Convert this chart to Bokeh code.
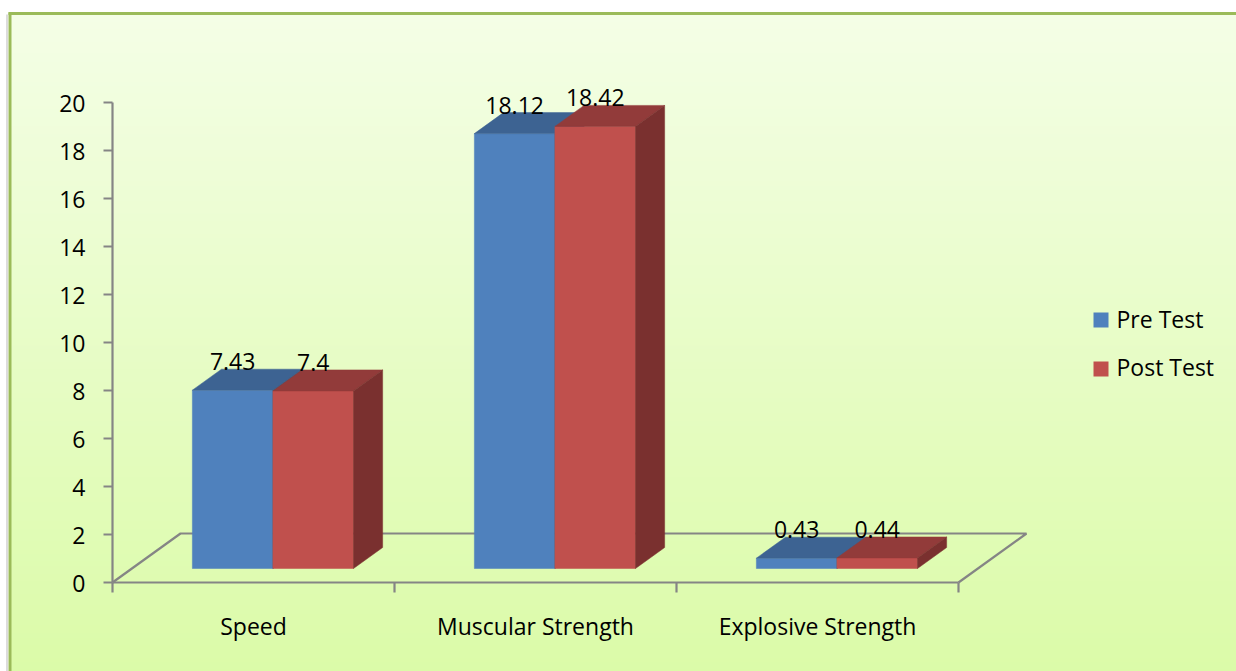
import numpy as np
from bokeh.plotting import figure
from bokeh.models import Range1d
from bokeh.core.properties import value
from bokeh.embed import file_html
from bokeh.resources import INLINE

# ---------------- data ----------------
categories = ["Speed", "Muscular Strength", "Explosive Strength"]
series = ["Pre Test", "Post Test"]
pre_test = [7.43, 18.12, 0.43]
post_test = [7.4, 18.42, 0.44]
value_labels_pre = ["7.43", "18.12", "0.43"]
value_labels_post = ["7.4", "18.42", "0.44"]
y_ticks = [0, 2, 4, 6, 8, 10, 12, 14, 16, 18, 20]
y_tick_labels = ["0", "2", "4", "6", "8", "10", "12", "14", "16", "18", "20"]

# ---------------- style ----------------
FRONT = ["#4F81BD", "#C0504D"]
TOP = ["#3D6392", "#923B3A"]
SIDE = ["#33557F", "#7A302F"]
AXIS = "#858585"
FONT = value("Open Sans")
FS = "23px"
TXT_SHIFT = 9.0   # pixel correction of the text baseline

W, H = 1236, 671
PX_CAT, PX_UNIT = 282.0, 24.0      # pixels per category / per value unit
X0, Y0 = 112.0, 582.0              # pixel position of the plot origin


def px2x(px):
    return (px - X0) / PX_CAT


def px2y(py):
    return (Y0 - py) / PX_UNIT


def dx(px):
    return px / PX_CAT


def dy(px):
    return px / PX_UNIT


p = figure(width=W, height=H,
           x_range=Range1d(px2x(0), px2x(W)), y_range=Range1d(px2y(H), px2y(0)),
           output_backend="svg", toolbar_location=None, min_border=0,
           x_axis_location=None, y_axis_location=None,
           outline_line_color=None, background_fill_color="white",
           border_fill_color="white")
p.grid.visible = False

# ---------------- chart area background (vertical gradient) ----------------
top_c = np.array([0xF4, 0xFE, 0xE6], float)
bot_c = np.array([0xDB, 0xFB, 0xA8], float)
edges = np.arange(13, H + 4, 4)
b_l, b_r, b_t, b_b, b_col = [], [], [], [], []
for i in range(len(edges) - 1):
    t = (edges[i] - 13) / (H - 13)
    c = top_c * (1 - t) + bot_c * t
    b_col.append("#%02x%02x%02x" % tuple(int(round(v)) for v in c))
    b_l.append(px2x(9))
    b_r.append(px2x(W + 2))
    b_t.append(px2y(edges[i]))
    b_b.append(px2y(edges[i + 1] + 0.6))
p.quad(left=b_l, right=b_r, top=b_t, bottom=b_b, fill_color=b_col, line_color=None)

# border and faint shadow
p.line([px2x(6.5), px2x(6.5)], [px2y(14), px2y(H)], line_color="#DCDCDC", line_width=2)
p.line([px2x(9.5), px2x(9.5)], [px2y(12), px2y(H)], line_color="#9BBB59", line_width=3)
p.line([px2x(8), px2x(W + 2)], [px2y(13), px2y(13)], line_color="#9BBB59", line_width=3)

# ---------------- 3-D geometry ----------------
n_cat = len(categories)
DDX, DDY = dx(68), dy(49)          # floor depth vector
F0, F1 = 2.0 / 7.0, 3.0 / 7.0      # bar front depth fraction / bar depth fraction
BAR_W = 1.0 / 3.5                  # gap width 150 %
base_x = F0 * DDX
base_y = F0 * DDY
bdx, bdy = F1 * DDX, F1 * DDY

# floor outline
p.line([0, DDX, n_cat + DDX, n_cat], [0, DDY, DDY, 0], line_color=AXIS, line_width=2.2)

# category axis + ticks
p.line([0, n_cat], [0, 0], line_color=AXIS, line_width=2.2)
cat_ticks = list(range(n_cat + 1))
p.segment(x0=cat_ticks, y0=[0] * len(cat_ticks), x1=cat_ticks, y1=[-dy(10)] * len(cat_ticks),
          line_color=AXIS, line_width=2.2)

# value axis + ticks
p.line([0, 0], [0, y_ticks[-1]], line_color=AXIS, line_width=2.2)
p.segment(x0=[-dx(9)] * len(y_ticks), y0=y_ticks, x1=[0] * len(y_ticks), y1=y_ticks,
          line_color=AXIS, line_width=2.2)

# ---------------- bars ----------------
all_vals = [pre_test, post_test]
all_lbls = [value_labels_pre, value_labels_post]
for s, vals in enumerate(all_vals):
    lefts = [c + base_x + 0.75 * BAR_W + s * BAR_W for c in range(n_cat)]
    rights = [l + BAR_W for l in lefts]
    bottoms = [base_y] * n_cat
    tops = [base_y + v for v in vals]
    p.quad(left=lefts, right=rights, bottom=bottoms, top=tops,
           fill_color=FRONT[s], line_color=FRONT[s], line_width=0.5)
    top_xs = [[l, r, r + bdx, l + bdx] for l, r in zip(lefts, rights)]
    top_ys = [[t, t, t + bdy, t + bdy] for t in tops]
    p.patches(top_xs, top_ys, fill_color=TOP[s], line_color=TOP[s], line_width=0.5)
    side_xs = [[r, r + bdx, r + bdx, r] for r in rights]
    side_ys = [[base_y, base_y + bdy, t + bdy, t] for t in tops]
    p.patches(side_xs, side_ys, fill_color=SIDE[s], line_color=SIDE[s], line_width=0.5)
    # data labels
    centers = [(l + r) / 2 for l, r in zip(lefts, rights)]
    p.text(x=centers, y=[t + dy(19.5 + TXT_SHIFT) for t in tops], text=all_lbls[s],
           text_font=FONT, text_font_size=FS, text_color="black",
           text_align="center", text_baseline="alphabetic")

# ---------------- axis labels ----------------
p.text(x=[-dx(27)] * len(y_ticks), y=[t - dy(9.5 - TXT_SHIFT) for t in y_ticks], text=y_tick_labels,
       text_font=FONT, text_font_size=FS, text_color="black",
       text_align="right", text_baseline="alphabetic")
p.text(x=[c + 0.5 for c in range(n_cat)], y=[-dy(52 - TXT_SHIFT)] * n_cat, text=categories,
       text_font=FONT, text_font_size=FS, text_color="black",
       text_align="center", text_baseline="alphabetic")

# ---------------- legend ----------------
leg_y = [px2y(319.5), px2y(368.5)]
p.scatter(x=[px2x(1100.5)] * 2, y=leg_y, marker="square", size=15,
          fill_color=FRONT, line_color=None)
p.text(x=[px2x(1116)] * 2, y=[px2y(327 - TXT_SHIFT), px2y(375 - TXT_SHIFT)], text=series,
       text_font=FONT, text_font_size=FS, text_color="black",
       text_align="left", text_baseline="alphabetic")

open("out.html", "w").write(file_html(p, INLINE))
